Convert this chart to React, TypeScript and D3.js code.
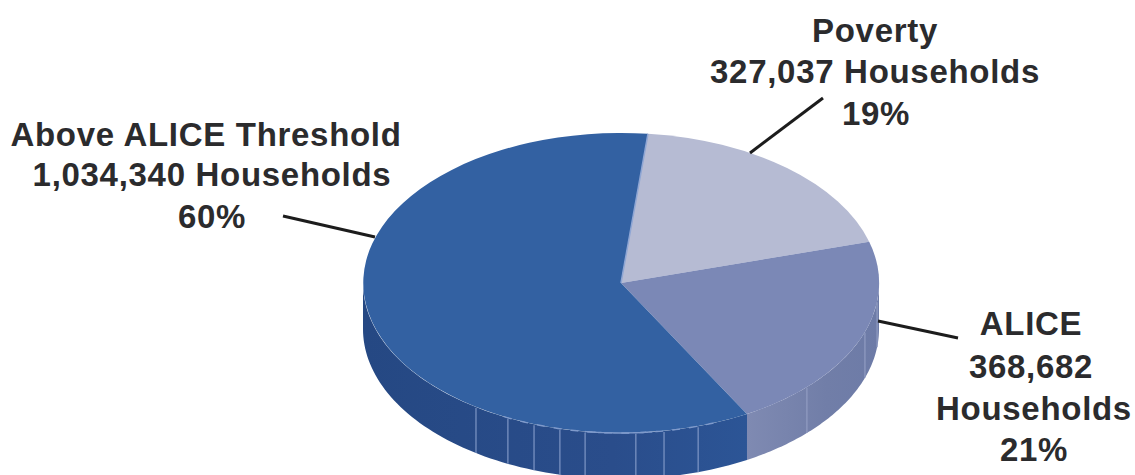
import React from "react";
import * as d3 from "d3";

// Household counts by income status, in pie order starting near 12 o'clock.
const categories = ["Poverty", "ALICE", "Above ALICE Threshold"];
const households = [327037, 368682, 1034340];
const topColors = ["#b6bbd3", "#7b88b6", "#3361a2"];

const labelLines = [
  ["Poverty", "327,037 Households", "19%"],
  ["ALICE", "368,682", "Households", "21%"],
  ["Above ALICE Threshold", "1,034,340 Households", "60%"],
];

const WIDTH = 1135;
const HEIGHT = 475;
const CX = 621;
const CY = 283;
const RX = 258;
const RY = 150;
const DEPTH = 46;
const START = (6 * Math.PI) / 180;
const rad = (deg: number) => (deg * Math.PI) / 180;

const LABEL_LAYOUT = [
  { xs: [875, 875, 876], ys: [42, 83, 125] },
  { xs: [1031, 1031, 1034, 1034], ys: [335, 378, 420, 461] },
  { xs: [206, 212, 212], ys: [146, 186, 228] },
];
const LEADERS = [
  [[823, 98], [750, 153]],
  [[878, 321], [958, 338]],
  [[283, 216], [375, 237]],
];
// Facet seams on the rim, as angles clockwise from 12 o'clock (degrees).
const SEAM_ANGLES = [214.2, 206, 199.7, 193.7, 188, 176.7, 170.4, 162.6, 133.9, 109, 97];

const px = (a: number) => CX + RX * Math.sin(a);
const py = (a: number) => CY - RY * Math.cos(a);

export default function App() {
  const pie = d3
    .pie<number>()
    .sort(null)
    .startAngle(START)
    .endAngle(START + 2 * Math.PI);
  const slices = pie(households);

  const arc = d3.arc<d3.PieArcDatum<number>>().innerRadius(0).outerRadius(1);

  const rim = d3
    .area<number>()
    .x((a) => px(a))
    .y0((a) => py(a))
    .y1((a) => py(a) + DEPTH);

  const sweep = (lo: number, hi: number, n = 80) =>
    d3.range(n + 1).map((i) => lo + ((hi - lo) * i) / n);

  // Only the front half of each slice's rim is visible.
  const rimPath = (s: d3.PieArcDatum<number>) => {
    const lo = Math.max(s.startAngle, Math.PI / 2);
    const hi = Math.min(s.endAngle, (3 * Math.PI) / 2);
    if (hi <= lo) return null;
    return rim(sweep(lo, hi));
  };

  const edge = d3
    .line<number>()
    .x((a) => px(a))
    .y((a) => py(a));

  return (
    <svg
      width={WIDTH}
      height={HEIGHT}
      style={{ position: "absolute", left: 0, top: 0, display: "block", background: "#fff" }}
    >
      <defs>
        <linearGradient id="rimBlue" x1="0" x2="1" y1="0" y2="0">
          <stop offset="0" stopColor="#254883" />
          <stop offset="0.65" stopColor="#2a4d8b" />
          <stop offset="1" stopColor="#2c5596" />
        </linearGradient>
        <linearGradient id="rimPeri" x1="0" x2="1" y1="0" y2="0">
          <stop offset="0" stopColor="#7f8ab2" />
          <stop offset="0.6" stopColor="#717ea8" />
          <stop offset="1" stopColor="#6d7ba7" />
        </linearGradient>
      </defs>

      {/* side wall */}
      {slices.map((s, i) => {
        const d = rimPath(s);
        if (!d) return null;
        return (
          <path
            key={categories[i]}
            d={d}
            fill={i === 2 ? "url(#rimBlue)" : i === 1 ? "url(#rimPeri)" : "#8d94b5"}
          />
        );
      })}
      {SEAM_ANGLES.map((deg) => {
        const a = rad(deg);
        return (
          <line
            key={deg}
            x1={px(a)}
            x2={px(a)}
            y1={py(a) + 1}
            y2={py(a) + DEPTH}
            stroke={deg < 150 ? "#919cc2" : "#7f97c6"}
            strokeWidth={1.2}
          />
        );
      })}

      {/* top face */}
      <g transform={`translate(${CX},${CY}) scale(${RX},${RY})`}>
        {slices.map((s, i) => (
          <path key={categories[i]} d={arc(s) ?? ""} fill={topColors[i]} />
        ))}
      </g>
      <line
        x1={CX}
        y1={CY}
        x2={px(START)}
        y2={py(START)}
        stroke="#8fa6d4"
        strokeWidth={1.5}
      />

      {/* glints along the front edge of the top face */}
      <path
        d={edge(sweep(rad(207), rad(158))) ?? ""}
        fill="none"
        stroke="#7f9acb"
        strokeWidth={1.4}
        strokeDasharray="8 9"
      />
      <path
        d={edge(sweep(rad(188), rad(173))) ?? ""}
        fill="none"
        stroke="#7f9acb"
        strokeWidth={1.4}
      />

      {/* leader lines */}
      {LEADERS.map((l, i) => (
        <line
          key={i}
          x1={l[0][0]}
          y1={l[0][1]}
          x2={l[1][0]}
          y2={l[1][1]}
          stroke="#1c1c1c"
          strokeWidth={3}
        />
      ))}

      {/* labels */}
      {labelLines.map((lines, i) =>
        lines.map((t, j) => (
          <text
            key={`${i}-${j}`}
            x={LABEL_LAYOUT[i].xs[j]}
            y={LABEL_LAYOUT[i].ys[j]}
            textAnchor="middle"
            fontFamily="'Liberation Sans', Arial, sans-serif"
            fontWeight={700}
            fontSize={33}
            letterSpacing={0.7}
            fill="#2b2b2d"
          >
            {t}
          </text>
        ))
      )}
    </svg>
  );
}
